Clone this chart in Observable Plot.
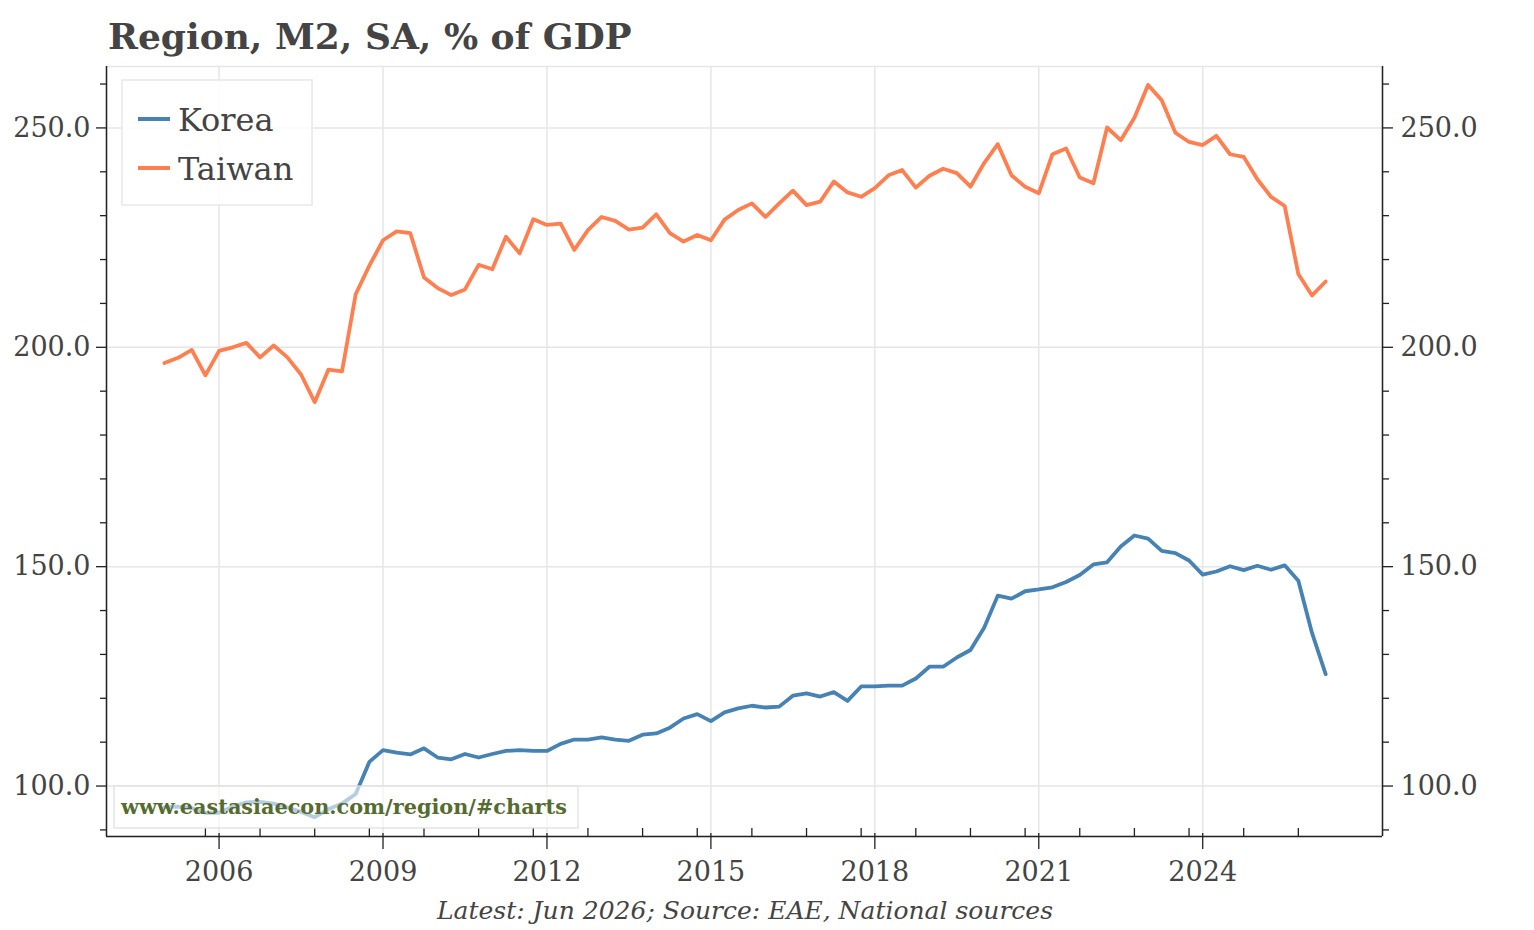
<!DOCTYPE html>
<html>
<head>
<meta charset="utf-8">
<script src="https://cdn.jsdelivr.net/npm/d3@7"></script>
<script src="https://cdn.jsdelivr.net/npm/@observablehq/plot@0.6"></script>
<style>
  html, body { margin: 0; padding: 0; background: #fff; }
  #chart { width: 1534px; height: 930px; }
</style>
</head>
<body>
<div id="chart"></div>
<script>
// ---- data (quarterly, 2005Q1 .. 2026Q2) ----
const startYear = 2005;
const korea = [95.2, 95.3, 95.0, 93.9, 93.9, 95.3, 96.3, 96.4, 96.0, 95.1,
  94.1, 92.9, 94.7, 96.0, 98.2, 105.5, 108.2, 107.6, 107.2, 108.6,
  106.5, 106.1, 107.3, 106.5, 107.3, 108.0, 108.2, 108.0, 108.0, 109.6,
  110.6, 110.6, 111.1, 110.6, 110.3, 111.7, 112.0, 113.3, 115.4, 116.4,
  114.8, 116.8, 117.7, 118.3, 117.9, 118.1, 120.6, 121.1, 120.4, 121.4,
  119.4, 122.7, 122.7, 122.9, 122.9, 124.5, 127.2, 127.2, 129.3, 131.0,
  136.1, 143.4, 142.7, 144.4, 144.8, 145.3, 146.5, 148.1, 150.5, 151.0,
  154.6, 157.1, 156.4, 153.6, 153.1, 151.4, 148.2, 148.9, 150.1, 149.2,
  150.2, 149.3, 150.3, 146.8, 134.9, 125.5];
const taiwan = [196.4, 197.6, 199.4, 193.6, 199.2, 200.0, 201.0, 197.7, 200.4, 197.7,
  193.8, 187.5, 194.9, 194.5, 212.1, 218.6, 224.4, 226.4, 226.0, 215.9,
  213.5, 211.9, 213.2, 218.8, 217.8, 225.2, 221.4, 229.2, 227.9, 228.2,
  222.2, 226.7, 229.7, 228.8, 226.8, 227.3, 230.3, 226.0, 224.1, 225.6,
  224.4, 229.1, 231.3, 232.8, 229.7, 232.8, 235.7, 232.4, 233.2, 237.8,
  235.3, 234.3, 236.3, 239.2, 240.4, 236.4, 239.1, 240.7, 239.7, 236.6,
  242.0, 246.3, 239.2, 236.6, 235.1, 244.0, 245.3, 238.7, 237.4, 250.1,
  247.2, 252.3, 259.8, 256.3, 248.9, 246.8, 246.1, 248.2, 244.0, 243.4,
  238.3, 234.3, 232.2, 216.7, 211.8, 215.0];
const seriesNames = ["Korea", "Taiwan"];
const seriesColors = ["#4682b4", "#ff7f50"];
const xMajor = [2006, 2009, 2012, 2015, 2018, 2021, 2024];
const xMinor = [2005.75, 2006.75, 2007.75, 2008.75, 2009.75, 2010.75, 2011.75, 2012.75,
  2013.75, 2014.75, 2015.75, 2016.75, 2017.75, 2018.75, 2019.75, 2020.75, 2021.75,
  2022.75, 2023.75, 2024.75, 2025.75];
const yMajor = [100, 150, 200, 250];
const yMinor = [90, 110, 120, 130, 140, 160, 170, 180, 190, 210, 220, 230, 240, 260];
const xDomain = [2003.94, 2027.29];
const yDomain = [88.5, 264];
const titleText = "Region, M2, SA, % of GDP";
const captionText = "Latest: Jun 2026; Source: EAE, National sources";
const watermarkText = "www.eastasiaecon.com/region/#charts";

const rows = (vals, name) => vals.map((v, i) => ({t: startYear + i / 4, v, name}));
const kRows = rows(korea, seriesNames[0]);
const tRows = rows(taiwan, seriesNames[1]);

const FONT = "DejaVu Serif";
const W = 1534, H = 930;
const mL = 106, mR = 152, mT = 66, mB = 94;

const chart = Plot.plot({
  width: W, height: H,
  marginTop: mT, marginBottom: mB, marginLeft: mL, marginRight: mR,
  x: {domain: xDomain},
  y: {domain: yDomain},
  style: {fontFamily: FONT, background: "#fff", color: "#444", overflow: "visible"},
  marks: [
    Plot.frame({stroke: "#e6e6e6", strokeWidth: 1.5}),
    Plot.gridX(xMajor, {stroke: "#e6e6e6", strokeOpacity: 1, strokeWidth: 1.5}),
    Plot.gridY(yMajor, {stroke: "#e6e6e6", strokeOpacity: 1, strokeWidth: 1.5}),
    Plot.line(kRows, {x: "t", y: "v", stroke: seriesColors[0], strokeWidth: 3.8, strokeLinejoin: "round"}),
    Plot.line(tRows, {x: "t", y: "v", stroke: seriesColors[1], strokeWidth: 3.8, strokeLinejoin: "round"}),
    Plot.ruleY([yDomain[0]], {stroke: "#222", strokeWidth: 1.5}),
    Plot.ruleX([xDomain[0], xDomain[1]], {stroke: "#222", strokeWidth: 1.5}),
    // x ticks
    Plot.axisX(xMajor, {tickSize: 16, insetBottom: 3, fill: "none", stroke: "#222", strokeWidth: 1.3, label: null}),
    Plot.axisX(xMinor, {tickSize: 8, insetBottom: 8, fill: "none", stroke: "#222", strokeWidth: 1.3, label: null}),
    Plot.axisX(xMajor, {tickSize: 0, tickPadding: 25, fontSize: 27, fill: "#444", tickFormat: d => String(d), label: null}),
    // y ticks left
    Plot.axisY(yMajor, {anchor: "left", tickSize: 10, tickPadding: 6, fontSize: 27, fill: "#444", stroke: "#222", strokeWidth: 1.3, tickFormat: d => d.toFixed(1), label: null}),
    Plot.axisY(yMinor, {anchor: "left", tickSize: 6, fill: "none", stroke: "#222", strokeWidth: 1.3, label: null}),
    // y ticks right
    Plot.axisY(yMajor, {anchor: "right", tickSize: 10, tickPadding: 8, fontSize: 27, fill: "#444", stroke: "#222", strokeWidth: 1.3, tickFormat: d => d.toFixed(1), label: null}),
    Plot.axisY(yMinor, {anchor: "right", tickSize: 6, fill: "none", stroke: "#222", strokeWidth: 1.3, label: null})
  ]
});

const svg = d3.select(chart);

// title
svg.append("text")
  .attr("x", 108).attr("y", 49).attr("text-anchor", "start")
  .attr("font-family", FONT).attr("font-weight", "bold").attr("font-size", 36)
  .attr("fill", "#444").text(titleText);

// caption
svg.append("text")
  .attr("x", 745).attr("y", 919).attr("text-anchor", "middle")
  .attr("font-family", FONT).attr("font-style", "italic").attr("font-size", 25)
  .attr("fill", "#444").text(captionText);

// legend
const lg = svg.append("g");
lg.append("rect").attr("x", 122).attr("y", 80).attr("width", 190).attr("height", 125)
  .attr("fill", "#fff").attr("fill-opacity", 0.85).attr("stroke", "#e8e8e8").attr("stroke-width", 1.5);
seriesNames.forEach((name, i) => {
  const yy = 119 + i * 49;
  lg.append("line").attr("x1", 138).attr("x2", 170).attr("y1", yy).attr("y2", yy)
    .attr("stroke", seriesColors[i]).attr("stroke-width", 4);
  lg.append("text").attr("x", 178).attr("y", yy + 12).attr("text-anchor", "start")
    .attr("font-family", FONT).attr("font-size", 32).attr("fill", "#444").text(name);
});

// watermark
const wm = svg.append("g");
wm.append("rect").attr("x", 114).attr("y", 786).attr("width", 464).attr("height", 42)
  .attr("fill", "#fff").attr("fill-opacity", 0.6).attr("stroke", "#dddddd").attr("stroke-opacity", 0.8).attr("stroke-width", 1.5);
wm.append("text").attr("x", 121).attr("y", 814).attr("text-anchor", "start")
  .attr("font-family", FONT).attr("font-weight", "bold").attr("font-size", 20.8)
  .attr("fill", "#556b2f").text(watermarkText);

document.getElementById("chart").appendChild(chart);
</script>
</body>
</html>
